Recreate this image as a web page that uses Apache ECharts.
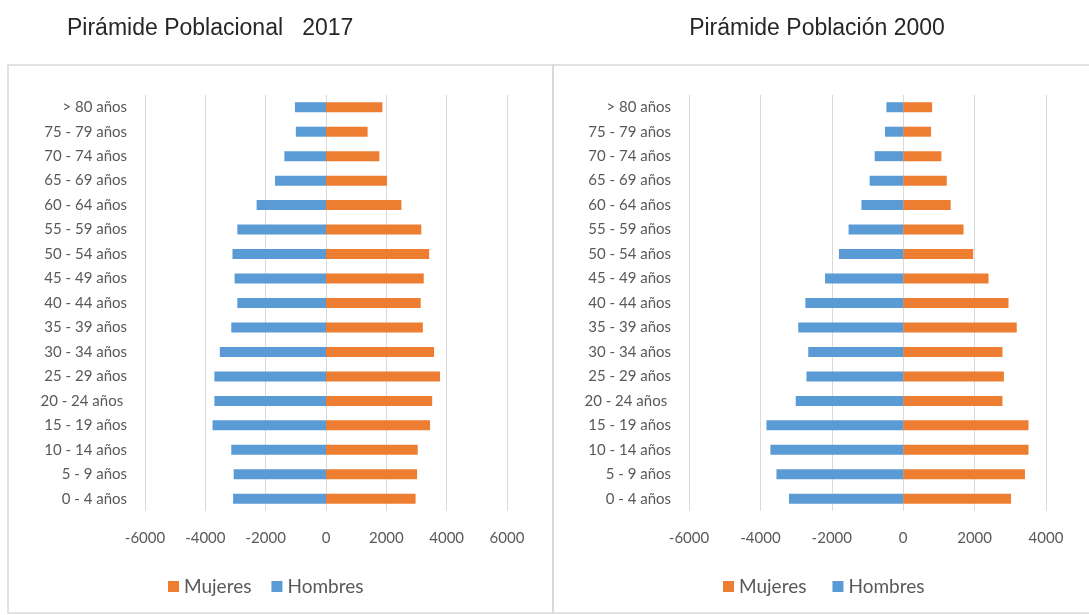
<!DOCTYPE html>
<html>
<head>
<meta charset="utf-8">
<script src="https://cdn.jsdelivr.net/npm/echarts@6/dist/echarts.min.js"></script>
<style>
html,body{margin:0;padding:0;background:#fff;}
#chart{width:1089px;height:615px;}
</style>
</head>
<body>
<div id="chart"></div>
<script>
// Age groups, bottom to top
const categories = ['0 - 4 años','5 - 9 años','10 - 14 años','15 - 19 años','20 - 24 años ','25 - 29 años','30 - 34 años','35 - 39 años','40 - 44 años','45 - 49 años','50 - 54 años','55 - 59 años','60 - 64 años','65 - 69 años','70 - 74 años','75 - 79 años','> 80 años'];

// 2017 pyramid (Hombres drawn as negative values)
const hombres2017 = [-3080,-3060,-3140,-3760,-3700,-3700,-3520,-3140,-2940,-3030,-3100,-2940,-2300,-1690,-1380,-1000,-1030];
const mujeres2017 = [2970,3020,3040,3450,3520,3780,3580,3210,3140,3240,3420,3160,2500,2020,1770,1380,1870];

// 2000 pyramid
const hombres2000 = [-3200,-3550,-3720,-3830,-3010,-2710,-2660,-2940,-2740,-2190,-1800,-1530,-1170,-940,-800,-510,-470];
const mujeres2000 = [3020,3410,3510,3510,2780,2820,2780,3180,2950,2390,1960,1690,1330,1220,1070,780,810];

// Axis ticks
const ticks2017 = {min:-6000, max:6000, interval:2000};
const ticks2000 = {min:-6000, max:4000, interval:2000};

const ORANGE = '#ED7D31', BLUE = '#5B9BD5';
const labelFont = 'Lato';
const grey = '#595959';

const chart = echarts.init(document.getElementById('chart'), null, {renderer:'canvas'});

function xAxisCfg(idx, t){
  return {
    type:'value', gridIndex:idx, min:t.min, max:t.max, interval:t.interval,
    axisLine:{show:false}, axisTick:{show:false},
    axisLabel:{color:grey, fontFamily:labelFont, fontSize:15, margin:20, formatter:v => String(v)},
    splitLine:{lineStyle:{color:'#d9d9d9', width:1}}
  };
}
function yAxisCfg(idx){
  return {
    type:'category', gridIndex:idx, data:categories,
    axisLine:{show:false, onZero:false}, axisTick:{show:false},
    axisLabel:{color:grey, fontFamily:labelFont, fontSize:15, margin:18}
  };
}
function barSeries(name, data, idx, color){
  return {
    name, type:'bar', stack:'s'+idx, xAxisIndex:idx, yAxisIndex:idx,
    data, barWidth:10, itemStyle:{color}, emphasis:{disabled:true}
  };
}

chart.setOption({
  animation:false,
  title:[
    {text:'Pirámide Poblacional   2017', left:62, top:12,
     textStyle:{fontFamily:'Liberation Sans', fontWeight:'normal', fontSize:23, color:'#262626'}},
    {text:'Pirámide Población 2000', left:812, top:12, textAlign:'center',
     textStyle:{fontFamily:'Liberation Sans', fontWeight:'normal', fontSize:23, color:'#262626'}}
  ],
  legend:[
    {data:['Mujeres','Hombres'], left:163, top:572, itemWidth:11, itemHeight:11, itemGap:20,
     icon:'rect', textStyle:{color:grey, fontFamily:labelFont, fontSize:19}},
    {data:['Mujeres','Hombres'], left:718, top:572, itemWidth:11, itemHeight:11, itemGap:26,
     icon:'rect', textStyle:{color:grey, fontFamily:labelFont, fontSize:19}}
  ],
  graphic:[
    {type:'rect', shape:{x:8, y:65, width:545, height:548}, style:{fill:'none', stroke:'#d9d9d9', lineWidth:1.5}, silent:true},
    {type:'rect', shape:{x:553, y:65, width:545, height:548}, style:{fill:'none', stroke:'#d9d9d9', lineWidth:1.5}, silent:true}
  ],
  grid:[
    {left:145, top:95, width:362, height:416},
    {left:689, top:95, width:357, height:416}
  ],
  xAxis:[xAxisCfg(0, ticks2017), xAxisCfg(1, ticks2000)],
  yAxis:[yAxisCfg(0), yAxisCfg(1)],
  series:[
    barSeries('Mujeres', mujeres2017, 0, ORANGE),
    barSeries('Hombres', hombres2017, 0, BLUE),
    barSeries('Mujeres', mujeres2000, 1, ORANGE),
    barSeries('Hombres', hombres2000, 1, BLUE)
  ]
});
</script>
</body>
</html>
